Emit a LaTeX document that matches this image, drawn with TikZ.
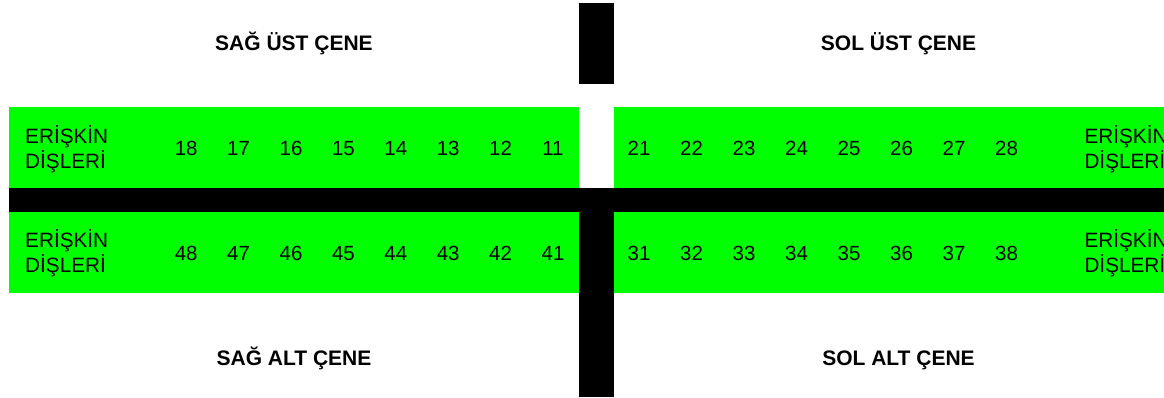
\documentclass[tikz,border=0pt]{standalone}
\usepackage{fontspec}
\setmainfont{Liberation Sans}
\definecolor{gum}{HTML}{00FF00}
\definecolor{midline}{HTML}{000000}
\begin{document}
\begin{tikzpicture}[x=1pt,y=-1pt,
 tooth/.style={inner sep=0pt,anchor=base,font=\fontsize{20.5}{25}\selectfont},
 setlabel/.style={inner sep=0pt,align=left,anchor=base west,
   font=\fontsize{20.75}{25}\selectfont},
 jaw/.style={inner sep=0pt,anchor=base,font=\fontsize{21}{24}\selectfont\bfseries}]
\clip (0,0) rectangle (1164,398);

% Four quadrants of green, split by the black midline cross.
\fill[gum] (9,107) rectangle (579,188);
\fill[gum] (614,107) rectangle (1200,188);
\fill[gum] (9,212) rectangle (579,293);
\fill[gum] (614,212) rectangle (1200,293);
\fill[midline] (9,188) rectangle (1200,212);
\fill[midline] (579,3) rectangle (614,84);
\fill[midline] (579,188) rectangle (614,397);

% Jaw titles
\node[jaw] (rightupper) at (294,50.7) {SAĞ ÜST ÇENE};
\node[jaw] (leftupper) at (898.5,50.7) {SOL ÜST ÇENE};
\node[jaw] (rightlower) at (294,365) {SAĞ ALT ÇENE};
\node[jaw] (leftlower) at (898.5,365) {SOL ALT ÇENE};

% Row captions (base is the second line); the right ones run off the page
\node[setlabel] (adultUL) at (25,168.3) {ERİŞKİN\\DİŞLERİ};
\node[setlabel] (adultUR) at (1084.3,168.3) {ERİŞKİN\\DİŞLERİ};
\node[setlabel] (adultLL) at (25,272.3) {ERİŞKİN\\DİŞLERİ};
\node[setlabel] (adultLR) at (1084.3,272.3) {ERİŞKİN\\DİŞLERİ};

% Tooth numbers (FDI), counted outward from the midline
\foreach \i in {1,...,8} {
  \node[tooth] (t1\i) at ({553-52.4*(\i-1)},156) {1\i};
  \node[tooth] (t2\i) at ({639+52.5*(\i-1)},156) {2\i};
  \node[tooth] (t4\i) at ({553-52.4*(\i-1)},260.7) {4\i};
  \node[tooth] (t3\i) at ({639+52.5*(\i-1)},260.7) {3\i};
}
\end{tikzpicture}
\end{document}
